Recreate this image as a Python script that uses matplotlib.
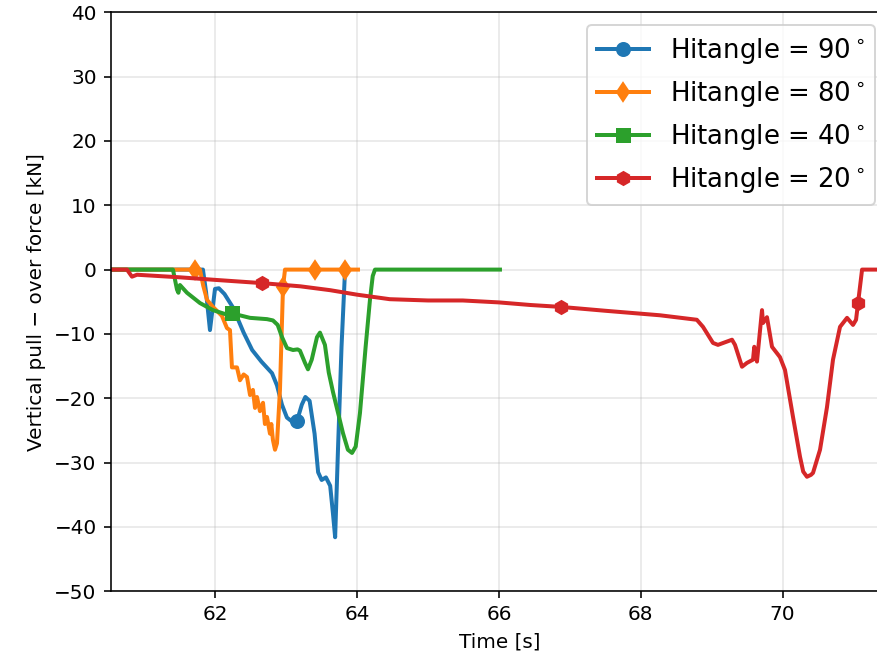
import numpy as np
import matplotlib
matplotlib.use("Agg")
import matplotlib.pyplot as plt

# Hitangle = 90 deg
t90 = [60.525, 61.826, 61.87, 61.925, 61.996, 62.05, 62.13, 62.25, 62.40, 62.52,
       62.65, 62.80, 62.87, 62.94, 63.01, 63.08, 63.15, 63.22, 63.27, 63.33,
       63.40, 63.45, 63.50, 63.56, 63.62, 63.66, 63.69, 63.73, 63.78, 63.83]
f90 = [0, 0, -3.5, -9.4, -3.0, -2.9, -3.8, -5.9, -9.8, -12.5,
       -14.3, -16.1, -18.0, -21.0, -23.0, -23.6, -23.6, -21.0, -19.8, -20.4,
       -25.5, -31.5, -32.7, -32.3, -33.6, -38.0, -41.6, -28.0, -12.0, 0]
mk90 = [63.15]

# Hitangle = 80 deg
t80 = [60.525, 61.714, 61.784, 61.83, 61.883, 61.967, 62.094, 62.165, 62.207, 62.235,
       62.306, 62.348, 62.40, 62.447, 62.49, 62.531, 62.56, 62.588, 62.63, 62.673,
       62.70, 62.729, 62.771, 62.79, 62.813, 62.842, 62.87, 62.912, 62.955, 62.983,
       63.405, 63.829, 64.012]
f80 = [0, 0, 0, -2.5, -4.7, -5.8, -7.2, -9.1, -9.4, -15.2,
       -15.2, -17.2, -16.3, -16.7, -19.5, -18.7, -21.5, -19.8, -22.0, -20.7,
       -24.0, -22.9, -25.5, -24.0, -26.5, -28.0, -27.0, -18.7, -2.7, 0,
       0, 0, 0]
mk80 = [61.714, 62.955, 63.405, 63.829]

# Hitangle = 40 deg
t40 = [60.525, 61.403, 61.46, 61.48, 61.502, 61.601, 61.784, 61.967, 62.165, 62.235,
       62.489, 62.729, 62.813, 62.88, 62.941, 63.011, 63.096, 63.16, 63.194, 63.265,
       63.307, 63.36, 63.434, 63.476, 63.546, 63.60, 63.659, 63.80, 63.87, 63.928,
       63.98, 64.04, 64.12, 64.181, 64.22, 64.252, 66.014]
f40 = [0, 0, -3.1, -3.6, -2.4, -3.6, -5.2, -6.3, -7.0, -6.8,
       -7.5, -7.7, -7.9, -8.6, -10.5, -12.2, -12.5, -12.4, -12.6, -14.5,
       -15.5, -14.0, -10.5, -9.8, -11.7, -16.0, -19.0, -25.4, -28.0, -28.5,
       -27.5, -22.3, -12.0, -4.7, -1.0, 0, 0]
mk40 = [62.235]

# Hitangle = 20 deg
t20 = [60.525, 60.755, 60.825, 60.896, 61.5, 62.0, 62.658, 63.2, 63.62, 64.0,
       64.46, 65.0, 65.49, 66.0, 66.44, 66.874, 67.5, 68.27, 68.79, 68.877,
       69.018, 69.088, 69.286, 69.328, 69.427, 69.497, 69.582, 69.60, 69.638, 69.709,
       69.723, 69.779, 69.85, 69.962, 70.033, 70.146, 70.245, 70.29, 70.343, 70.40,
       70.428, 70.527, 70.625, 70.71, 70.809, 70.908, 70.992, 71.035, 71.063, 71.12,
       71.485]
f20 = [0, 0, -1.1, -0.8, -1.2, -1.6, -2.1, -2.6, -3.2, -3.9,
       -4.6, -4.8, -4.8, -5.1, -5.5, -5.8, -6.4, -7.1, -7.8, -8.9,
       -11.4, -11.7, -10.9, -11.7, -15.1, -14.5, -14.0, -12.0, -14.3, -6.3,
       -8.3, -7.4, -12.0, -13.6, -15.6, -22.9, -29.1, -31.4, -32.2, -31.9,
       -31.6, -28.0, -21.4, -14.0, -8.9, -7.5, -8.6, -7.8, -5.2, 0,
       0]
mk20 = [62.658, 66.874, 71.063]

series = [
    (t90, f90, mk90, 'o', r'Hitangle = 90$^\circ$'),
    (t80, f80, mk80, 'd', r'Hitangle = 80$^\circ$'),
    (t40, f40, mk40, 's', r'Hitangle = 40$^\circ$'),
    (t20, f20, mk20, 'h', r'Hitangle = 20$^\circ$'),
]

fig = plt.figure(figsize=(877 / 144, 666 / 144), dpi=144)
ax = fig.add_axes([0.1262, 0.1122, 0.8863, 0.8694])

for t, f, mk, m, lab in series:
    t = np.array(t)
    idx = [int(np.argmin(np.abs(t - v))) for v in mk]
    ax.plot(t, f, marker=m, markevery=idx, lw=2, ms=6.5, label=lab)

ax.set_xlim(60.525, 71.485)
ax.set_ylim(-50, 40)
ax.set_xticks([62, 64, 66, 68, 70])
ax.set_yticks(np.arange(-50, 41, 10))
ax.grid(alpha=0.3)
ax.set_xlabel('Time [s]')
ax.set_ylabel('Vertical pull \u2212 over force [kN]')
ax.legend(loc='upper right', fontsize=13)

fig.savefig('out.png', dpi=144)
